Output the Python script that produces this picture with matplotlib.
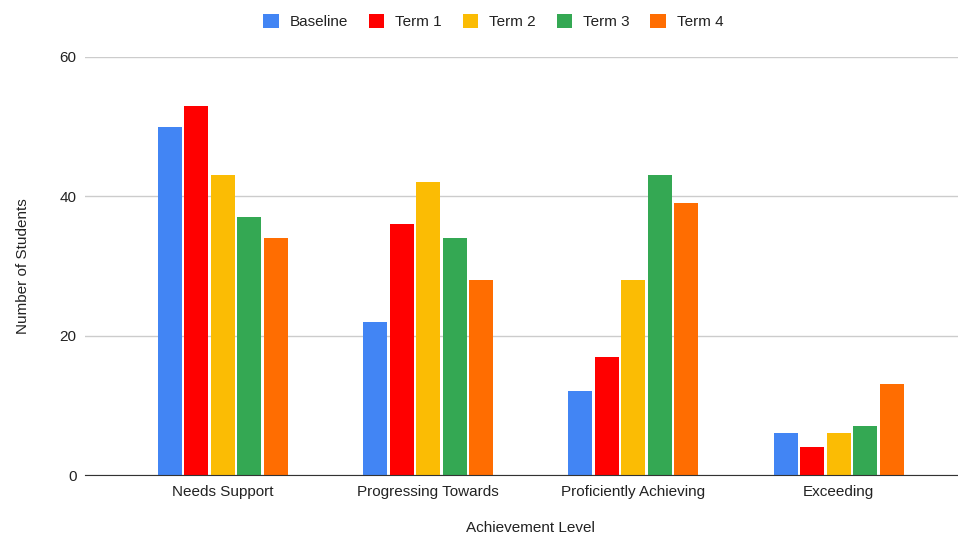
import matplotlib
matplotlib.use("Agg")
import matplotlib.pyplot as plt
import numpy as np

plt.rcParams['font.family'] = ['Liberation Sans', 'DejaVu Sans']

levels = ["Needs Support", "Progressing Towards", "Proficiently Achieving", "Exceeding"]
series_names = ["Baseline", "Term 1", "Term 2", "Term 3", "Term 4"]
baseline = [50, 22, 12, 6]
term1 = [53, 36, 17, 4]
term2 = [43, 42, 28, 6]
term3 = [37, 34, 43, 7]
term4 = [34, 28, 39, 13]
colors = ["#4285F4", "#FF0000", "#FBBC04", "#34A853", "#FF6D01"]

fig = plt.figure(figsize=(9.58, 5.36), dpi=100)
ax = fig.add_axes([0.0887, 0.1138, 0.9113, 0.78])

x = np.arange(len(levels))
step = 0.129
width = 0.117
for i, (name, vals) in enumerate(zip(series_names, [baseline, term1, term2, term3, term4])):
    ax.bar(x + (i - 2) * step, vals, width, color=colors[i], label=name, zorder=3)

ax.set_xlim(-0.67, 3.58)
ax.set_ylim(0, 60)
ax.set_yticks([0, 20, 40, 60])
ax.set_xticks(x)
ax.set_xticklabels(levels)
ax.grid(axis="y", color="#cccccc", linewidth=1, zorder=0)
for s in ["top", "right", "left"]:
    ax.spines[s].set_visible(False)
ax.spines["bottom"].set_color("#333333")
ax.spines["bottom"].set_zorder(4)
ax.tick_params(axis="both", length=0, labelsize=11, colors="#222222")
ax.tick_params(axis="y", pad=6)
ax.tick_params(axis="x", pad=7)

ax.set_xlabel("Achievement Level", fontsize=11, color="#222222")
ax.xaxis.set_label_coords(0.51, -0.11)
ax.set_ylabel("Number of Students", fontsize=11, color="#222222")
ax.yaxis.set_label_coords(-0.063, 0.5)

fig.legend(loc="upper center", bbox_to_anchor=(0.515, 0.999), ncol=5, frameon=False,
           fontsize=11, handlelength=1.0, handleheight=1.0, handletextpad=0.72,
           columnspacing=1.37, labelcolor="#222222")

fig.savefig("out.png", dpi=100)
